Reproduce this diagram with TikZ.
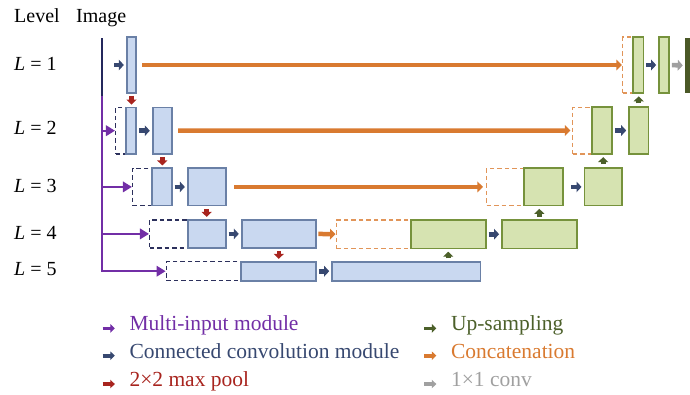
\documentclass[tikz,border=0pt]{standalone}
\usepackage{fontspec}
\setmainfont{Liberation Serif}
\usetikzlibrary{arrows.meta}
\definecolor{encfill}{RGB}{201,216,240}
\definecolor{encline}{RGB}{106,128,166}
\definecolor{decfill}{RGB}{214,227,177}
\definecolor{decline}{RGB}{118,146,60}
\definecolor{skipline}{RGB}{44,48,92}
\definecolor{catcol}{RGB}{217,122,48}
\definecolor{convcol}{RGB}{55,72,112}
\definecolor{poolcol}{RGB}{168,36,30}
\definecolor{upcol}{RGB}{76,96,42}
\definecolor{multicol}{RGB}{114,46,166}
\definecolor{onecol}{RGB}{160,160,160}
\definecolor{outcol}{RGB}{74,88,38}
\definecolor{topline}{RGB}{36,40,92}

\begin{document}
\begin{tikzpicture}[x=1pt,y=-1pt,every node/.style={font=\fontsize{20}{24}\selectfont,inner sep=0pt},
  enc/.style={draw=encline,fill=encfill,line width=1.7pt},
  dec/.style={draw=decline,fill=decfill,line width=1.7pt},
  skipn/.style={draw=skipline,line width=1.5pt,dash pattern=on 4.5pt off 3pt},
  skipo/.style={draw=catcol!80,line width=1.5pt,dash pattern=on 4.5pt off 3pt},
  conv/.style={draw=convcol,line width=4.6pt,-{Triangle[length=5pt,width=10.5pt]},shorten <=2pt,shorten >=2pt},
  pool/.style={draw=poolcol,line width=4.6pt,-{Triangle[length=5pt,width=10pt]},shorten <=2pt,shorten >=2pt},
  upsam/.style={draw=upcol,line width=4.6pt,-{Triangle[length=5pt,width=10pt]},shorten <=2.5pt,shorten >=2.5pt},
  onebyone/.style={draw=onecol,line width=4.6pt,-{Triangle[length=5pt,width=10.5pt]},shorten <=2pt,shorten >=2pt},
  concat/.style={draw=catcol,line width=4.5pt,-{Triangle[length=5.5pt,width=10.5pt]}},
  multi/.style={draw=multicol,line width=2pt,-{Triangle[length=9pt,width=10.5pt]}},
  legarrow/.style={line width=3.6pt,-{Triangle[length=4.5pt,width=8.5pt]}},
  legtext/.style={anchor=base west,font=\fontsize{21.5}{25}\selectfont}]
\useasboundingbox (0,0) rectangle (690,394);
\node[anchor=base west] (lvhead) at (14,22.7) {Level};
\node[anchor=base west] (imhead) at (76,22.7) {Image};
\node[anchor=base west] (lv1) at (14,70) {{\itshape L} = 1};
\node[anchor=base west] (lv2) at (14,134.3) {{\itshape L} = 2};
\node[anchor=base west] (lv3) at (14,192.3) {{\itshape L} = 3};
\node[anchor=base west] (lv4) at (14,239.3) {{\itshape L} = 4};
\node[anchor=base west] (lv5) at (14,275.7) {{\itshape L} = 5};
\coordinate (top) at (101.7,38);
\coordinate (mid) at (101.7,96);
\coordinate (in1) at (112,65);
\node[skipn,minimum width=10pt,minimum height=46.5pt] (s2) at (120.7,130.7) {};
\node[skipn,minimum width=19.3pt,minimum height=37.2pt] (s3) at (142.3,186.9) {};
\node[skipn,minimum width=38pt,minimum height=28.3pt] (s4) at (168.7,233.9) {};
\node[skipn,minimum width=74.7pt,minimum height=19pt] (s5) at (203.7,271.2) {};
\node[skipo,minimum width=10pt,minimum height=56pt] (c1) at (627.7,65) {};
\node[skipo,minimum width=19pt,minimum height=46.5pt] (c2) at (582.2,130.5) {};
\node[skipo,minimum width=37.6pt,minimum height=37.2pt] (c3) at (505.5,186.9) {};
\node[skipo,minimum width=74.4pt,minimum height=28.3pt] (c4) at (373.5,234.2) {};
\node[enc,minimum width=9.6pt,minimum height=56pt] (e1) at (131.5,65) {};
\node[enc,minimum width=10.6pt,minimum height=46.5pt] (e2a) at (131,130.7) {};
\node[enc,minimum width=19.3pt,minimum height=46.5pt] (e2b) at (162.3,130.7) {};
\node[enc,minimum width=19.7pt,minimum height=37.2pt] (e3a) at (161.8,186.9) {};
\node[enc,minimum width=38pt,minimum height=37.2pt] (e3b) at (206.7,186.9) {};
\node[enc,minimum width=38pt,minimum height=28.3pt] (e4a) at (206.7,233.9) {};
\node[enc,minimum width=74.3pt,minimum height=28.3pt] (e4b) at (278.8,233.9) {};
\node[enc,minimum width=75pt,minimum height=19pt] (e5a) at (278.5,271.2) {};
\node[enc,minimum width=148.3pt,minimum height=19pt] (e5b) at (406.2,271.2) {};
\node[dec,minimum width=75pt,minimum height=28.3pt] (d4a) at (448.2,234.2) {};
\node[dec,minimum width=74.7pt,minimum height=28.3pt] (d4b) at (539.3,234.2) {};
\node[dec,minimum width=38.4pt,minimum height=37.2pt] (d3a) at (543.5,186.9) {};
\node[dec,minimum width=37.7pt,minimum height=37.2pt] (d3b) at (603.2,186.9) {};
\node[dec,minimum width=20.3pt,minimum height=46.5pt] (d2a) at (601.8,130.5) {};
\node[dec,minimum width=19.3pt,minimum height=46.5pt] (d2b) at (638.7,130.5) {};
\node[dec,minimum width=10.5pt,minimum height=56pt] (d1) at (638.2,65) {};
\node[dec,minimum width=10pt,minimum height=56pt] (o1) at (664,65) {};
\node[fill=outcol,minimum width=5pt,minimum height=55pt] (out) at (687.5,65.5) {};
\draw[topline,line width=2pt] (top) -- (mid);
\draw[multi] (mid) |- (s5.west);
\draw[multi] (s2.west -| mid) -- (s2.west);
\draw[multi] (s3.west -| mid) -- (s3.west);
\draw[multi] (s4.west -| mid) -- (s4.west);
\draw[conv] (in1) -- (e1.west);
\draw[conv] (e2a.east) -- (e2b.west);
\draw[conv] (e3a.east) -- (e3b.west);
\draw[conv] (e4a.east) -- (e4b.west);
\draw[conv] (e5a.east) -- (e5b.west);
\draw[conv] (d4a.east) -- (d4b.west);
\draw[conv,shorten <=7.3pt] (d3a.east) -- (d3b.west);
\draw[conv] (d2a.east) -- (d2b.west);
\draw[conv,shorten <=1.5pt] (d1.east) -- (o1.west);
\draw[onebyone] (o1.east) -- (out.west);
\draw[pool] (e1.south) -- (e1.south |- e2a.north);
\draw[pool] (e2b.south) -- (e2b.south |- e3a.north);
\draw[pool,shorten <=2.8pt] (e3b.south) -- (e3b.south |- e4a.north);
\draw[pool] (e4b.south) -- (e4b.south |- e5a.north);
\draw[upsam] (d4a.south |- e5b.north) -- (d4a.south);
\draw[upsam] (d4b.north) -- (d4b.north |- d3a.south);
\draw[upsam,shorten <=3.3pt] (d3b.north) -- (d3b.north |- d2a.south);
\draw[upsam,shorten <=3pt] (d2b.north) -- (d2b.north |- d1.south);
\draw[concat,shorten <=5pt] (e1.east) -- (c1.west);
\draw[concat,shorten <=5.3pt,shorten >=1.5pt] (e2b.east) -- (c2.west);
\draw[concat,shorten <=7.6pt,shorten >=3pt] (e3b.east) -- (c3.west);
\draw[concat,shorten <=1.6pt] (e4b.east) -- (c4.west);
\node[legtext,text=multicol] (lg1) at (129.3,330.7) {Multi-input module};
\node[legtext,text=convcol] (lg2) at (129.3,358) {Connected convolution module};
\node[legtext,text=poolcol] (lg3) at (129.3,386.3) {2×2 max pool};
\node[legtext,text=upcol] (lg4) at (450.8,330.7) {Up-sampling};
\node[legtext,text=catcol] (lg5) at (450.8,358) {Concatenation};
\node[legtext,text=onecol] (lg6) at (450.8,386.3) {1×1 conv};
\draw[legarrow,multicol] ([xshift=-26.7pt]lg1.mid west) -- ([xshift=-14.5pt]lg1.mid west);
\draw[legarrow,convcol] ([xshift=-26.7pt]lg2.mid west) -- ([xshift=-14.5pt]lg2.mid west);
\draw[legarrow,poolcol] ([xshift=-26.7pt]lg3.mid west) -- ([xshift=-14.5pt]lg3.mid west);
\draw[legarrow,upcol] ([xshift=-26.7pt]lg4.mid west) -- ([xshift=-14.5pt]lg4.mid west);
\draw[legarrow,catcol] ([xshift=-26.7pt]lg5.mid west) -- ([xshift=-14.5pt]lg5.mid west);
\draw[legarrow,onecol] ([xshift=-26.7pt]lg6.mid west) -- ([xshift=-14.5pt]lg6.mid west);
\end{tikzpicture}
\end{document}
